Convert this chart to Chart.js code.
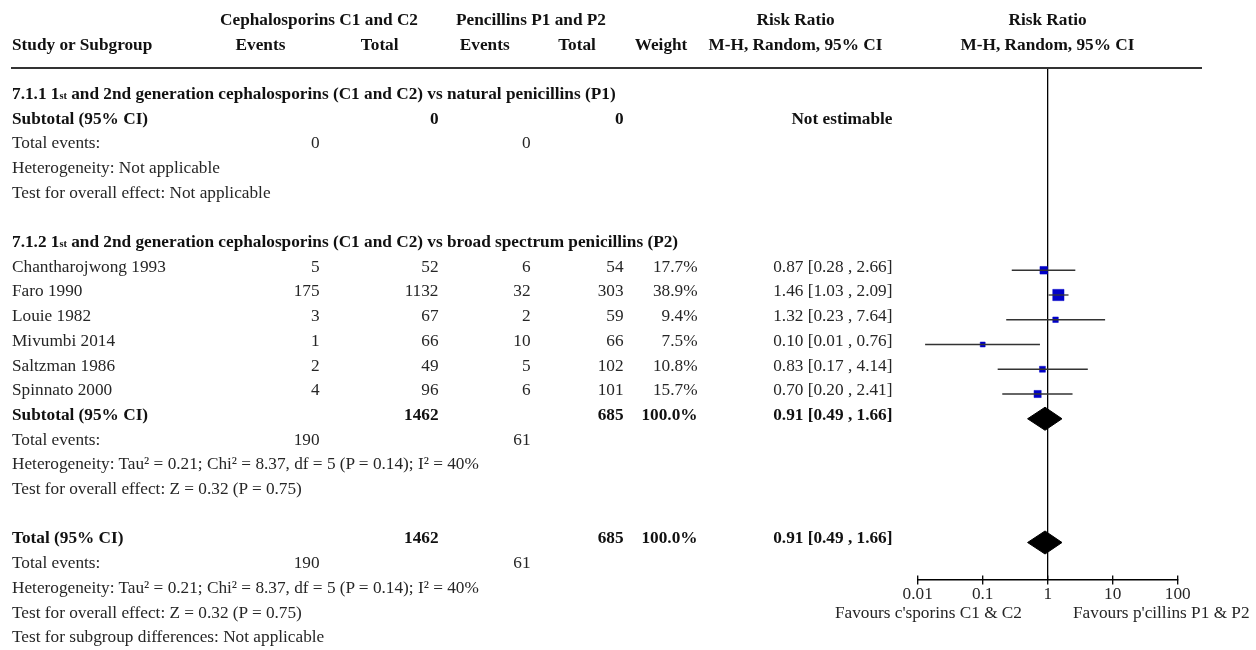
<!DOCTYPE html>
<html>
<head>
<meta charset="utf-8">
<script src="https://cdn.jsdelivr.net/npm/chart.js@4.4.1/dist/chart.umd.min.js"></script>
<style>
    body { margin: 0; background: #fff; }
    #wrap { position: relative; width: 1256px; height: 650px; font-family: 'Liberation Serif', serif; font-size: 17.25px; color: #262626; }
    #plot { position: absolute; left: 0; top: 0; }
    .cell { position: absolute; white-space: nowrap; line-height: 24.75px; height: 24.75px; }
    .b { font-weight: bold; color: #111; }
    .sub { font-size: 60%; }
    .rule { position: absolute; left: 11px; width: 1191px; top: 67px; height: 2px; background: #333; }
</style>
</head>
<body>
<div id="wrap">
    <canvas id="plot" width="1256" height="650"></canvas>
    <div class="rule"></div>
    <div id="table"></div>
</div>
<script>
// Study data
const studies = ['Chantharojwong 1993', 'Faro 1990', 'Louie 1982', 'Mivumbi 2014', 'Saltzman 1986', 'Spinnato 2000'];
const eventsC = [5, 175, 3, 1, 2, 4];
const totalC = [52, 1132, 67, 66, 49, 96];
const eventsP = [6, 32, 2, 10, 5, 6];
const totalP = [54, 303, 59, 66, 102, 101];
const weights = [17.7, 38.9, 9.4, 7.5, 10.8, 15.7];
const riskRatio = [0.87, 1.46, 1.32, 0.10, 0.83, 0.70];
const ciLow = [0.28, 1.03, 0.23, 0.013, 0.17, 0.20];
const ciHigh = [2.66, 2.09, 7.64, 0.76, 4.14, 2.41];

// Pooled estimate (subtotal and total are the same)
const pooled = [0.91, 0.49, 1.66];
const tickValues = [0.01, 0.1, 1, 10, 100];

const heterogeneity = 'Heterogeneity: Tau² = 0.21; Chi² = 8.37, df = 5 (P = 0.14); I² = 40%';
const overallEffect = 'Test for overall effect: Z = 0.32 (P = 0.75)';

const sum = a => a.reduce((s, v) => s + v, 0);
const ciText = (est, lo, hi) => est.toFixed(2) + ' [' + lo.toFixed(2) + ' , ' + hi.toFixed(2) + ']';

// ---- table text ----
const ROW0 = 81.8, ROW_H = 24.7, W = 1256;
const col = { name: 12, evC: 319.5, totC: 438.5, evP: 530.5, totP: 623.5, weight: 697.5, ci: 892.5 };
const table = document.getElementById('table');

function put(text, top, x, align, bold) {
    const d = document.createElement('div');
    d.className = 'cell' + (bold ? ' b' : '');
    d.innerHTML = text;
    d.style.top = top + 'px';
    if (align === 'right') {
        d.style.right = (W - x) + 'px';
    } else if (align === 'center') {
        d.style.left = (x - 150) + 'px';
        d.style.width = '300px';
        d.style.textAlign = 'center';
    } else {
        d.style.left = x + 'px';
    }
    table.appendChild(d);
}
const rowTop = k => ROW0 + ROW_H * k;
const row = (k, text, x, align, bold) => put(text, rowTop(k), x, align, bold);

// header
const h1 = 8.2, h2 = 33.2;
put('Cephalosporins C1 and C2', h1, 319, 'center', true);
put('Pencillins P1 and P2', h1, 531, 'center', true);
put('Risk Ratio', h1, 795.5, 'center', true);
put('Risk Ratio', h1, 1047.5, 'center', true);
put('Study or Subgroup', h2, col.name, 'left', true);
put('Events', h2, 260.5, 'center', true);
put('Total', h2, 379.7, 'center', true);
put('Events', h2, 484.7, 'center', true);
put('Total', h2, 577, 'center', true);
put('Weight', h2, 661, 'center', true);
put('M-H, Random, 95% CI', h2, 795.5, 'center', true);
put('M-H, Random, 95% CI', h2, 1047.5, 'center', true);

// 7.1.1
row(0, '7.1.1 1<span class="sub">st</span> and 2nd generation cephalosporins (C1 and C2) vs natural penicillins (P1)', col.name, 'left', true);
row(1, 'Subtotal (95% CI)', col.name, 'left', true);
row(1, '0', col.totC, 'right', true);
row(1, '0', col.totP, 'right', true);
row(1, 'Not estimable', col.ci, 'right', true);
row(2, 'Total events:', col.name, 'left');
row(2, '0', col.evC, 'right');
row(2, '0', col.evP, 'right');
row(3, 'Heterogeneity: Not applicable', col.name, 'left');
row(4, 'Test for overall effect: Not applicable', col.name, 'left');

// 7.1.2
const firstStudyRow = 7;
row(6, '7.1.2 1<span class="sub">st</span> and 2nd generation cephalosporins (C1 and C2) vs broad spectrum penicillins (P2)', col.name, 'left', true);
studies.forEach((s, i) => {
    const k = firstStudyRow + i;
    row(k, s, col.name, 'left');
    row(k, eventsC[i], col.evC, 'right');
    row(k, totalC[i], col.totC, 'right');
    row(k, eventsP[i], col.evP, 'right');
    row(k, totalP[i], col.totP, 'right');
    row(k, weights[i].toFixed(1) + '%', col.weight, 'right');
    row(k, ciText(riskRatio[i], ciLow[i], ciHigh[i]), col.ci, 'right');
});

function pooledBlock(k, label) {
    row(k, label, col.name, 'left', true);
    row(k, sum(totalC), col.totC, 'right', true);
    row(k, sum(totalP), col.totP, 'right', true);
    row(k, sum(weights).toFixed(1) + '%', col.weight, 'right', true);
    row(k, ciText(pooled[0], pooled[1], pooled[2]), col.ci, 'right', true);
    row(k + 1, 'Total events:', col.name, 'left');
    row(k + 1, sum(eventsC), col.evC, 'right');
    row(k + 1, sum(eventsP), col.evP, 'right');
    row(k + 2, heterogeneity, col.name, 'left');
    row(k + 3, overallEffect, col.name, 'left');
}
const subtotalRow = 13, totalRow = 18;
pooledBlock(subtotalRow, 'Subtotal (95% CI)');
pooledBlock(totalRow, 'Total (95% CI)');
row(22, 'Test for subgroup differences: Not applicable', col.name, 'left');

put("Favours c'sporins C1 &amp; C2", 600.8, 1022, 'right');
put("Favours p'cillins P1 &amp; P2", 600.8, 1073, 'left');

// ---- forest plot ----
const Y_MIN = -1.1717, Y_MAX = 19.515;
const datasets = [];

studies.forEach((s, i) => {
    const k = firstStudyRow + i;
    datasets.push({
        data: [{ x: ciLow[i], y: k }, { x: ciHigh[i], y: k }],
        showLine: true,
        borderColor: '#333',
        borderWidth: 1.3,
        pointRadius: 0,
        clip: false
    });
});

datasets.push({
    data: studies.map((s, i) => ({ x: riskRatio[i], y: firstStudyRow + i })),
    pointStyle: 'rect',
    pointRadius: ctx => 1.28 * Math.sqrt(weights[ctx.dataIndex]),
    backgroundColor: '#0000c8',
    borderColor: '#0000c8',
    borderWidth: 0.5,
    clip: false
});

function diamond(k) {
    const dh = 0.465;
    return {
        data: [
            { x: pooled[1], y: k },
            { x: pooled[0], y: k - dh },
            { x: pooled[2], y: k },
            { x: pooled[0], y: k + dh },
            { x: pooled[1], y: k }
        ],
        showLine: true,
        fill: 'shape',
        backgroundColor: '#000',
        borderColor: '#000',
        borderWidth: 1,
        pointRadius: 0,
        clip: false
    };
}
datasets.push(diamond(subtotalRow));
datasets.push(diamond(totalRow));

// axis tick marks crossing the axis line
datasets.push({
    data: tickValues.map(v => ({ x: v, y: Y_MAX })),
    pointStyle: 'line',
    rotation: 90,
    pointRadius: 4.5,
    borderColor: '#000',
    borderWidth: 1.3,
    clip: false
});

new Chart(document.getElementById('plot').getContext('2d'), {
    type: 'scatter',
    data: { datasets: datasets },
    options: {
        responsive: false,
        animation: false,
        layout: { padding: { left: 917.7, right: 78.3, top: 68, bottom: 0 } },
        plugins: { legend: { display: false }, tooltip: { enabled: false } },
        scales: {
            x: {
                type: 'logarithmic',
                min: 0.01,
                max: 100,
                afterBuildTicks: scale => { scale.ticks = tickValues.map(v => ({ value: v })); },
                afterFit: scale => { scale.height = 70; },
                grid: {
                    drawTicks: false,
                    color: c => (c.tick && c.tick.value === 1) ? '#000' : 'rgba(0,0,0,0)',
                    lineWidth: 1.3
                },
                border: { color: '#000', width: 1.5 },
                ticks: {
                    padding: 4.5,
                    color: '#262626',
                    autoSkip: false,
                    maxRotation: 0,
                    font: { family: 'Liberation Serif', size: 17.25 },
                    callback: v => String(v)
                }
            },
            y: { type: 'linear', display: false, reverse: true, min: Y_MIN, max: Y_MAX }
        }
    }
});
</script>
</body>
</html>
